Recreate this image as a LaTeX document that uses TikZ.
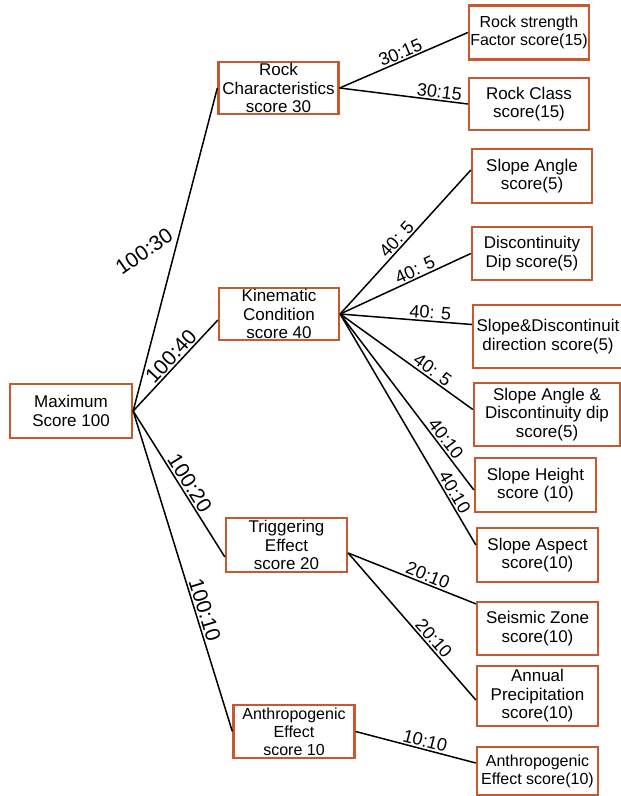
\documentclass[tikz,border=0pt]{standalone}
\usepackage{fontspec}
\setmainfont{Liberation Sans}
\definecolor{boxline}{RGB}{200,88,48}
\tikzset{
  scorebox/.style={draw=boxline, line width=2.3pt, align=center, inner sep=1pt,
    font=\fontsize{17}{18.5}\selectfont},
  smalltext/.style={font=\fontsize{16}{18}\selectfont},
  link/.style={line width=1.5pt},
  ratio/.style={font=\fontsize{18}{18}\selectfont, inner sep=1.5pt},
  bigratio/.style={font=\fontsize{21}{21}\selectfont, inner sep=1.5pt},
}
\begin{document}
\begin{tikzpicture}[x=1pt,y=-1pt]

    % Page frame
    \useasboundingbox (0,0) rectangle (621,796);

    % Root and main factors
    \node[scorebox, minimum width=122pt, minimum height=54pt] (maxi) at (71,411) {Maximum\\Score 100};
    \node[scorebox, minimum width=120pt, minimum height=51pt] (rockch) at (278.5,88) {Rock\\Characteristics\\score 30};
    \node[scorebox, minimum width=120pt, minimum height=52pt] (kinem) at (279,314) {Kinematic\\Condition\\score 40};
    \node[scorebox, minimum width=121pt, minimum height=54pt] (trig) at (286.5,545) {Triggering\\Effect\\score 20};
    \node[scorebox, smalltext, minimum width=121pt, minimum height=53pt] (anthro) at (294,731.5) {Anthropogenic\\Effect\\score 10};

    % Sub factors
    \node[scorebox, smalltext, minimum width=120pt, minimum height=54pt] (rockstr) at (529,32.5) {Rock strength\\Factor score(15)};
    \node[scorebox, minimum width=120pt, minimum height=52pt] (rockcls) at (529,104) {Rock Class\\score(15)};
    \node[scorebox, minimum width=120pt, minimum height=54pt] (slpang) at (532,176) {Slope Angle\\score(5)};
    \node[scorebox, minimum width=120pt, minimum height=53pt] (discdip) at (532,253.5) {Discontinuity\\Dip score(5)};
    \node[scorebox, minimum width=150pt, minimum height=63pt] (slpdisc) at (548,336.5) {Slope\&Discontinuit\\direction score(5)};
    \node[scorebox, minimum width=146pt, minimum height=63pt] (sadd) at (547,414.5) {Slope Angle \&\\Discontinuity dip\\score(5)};
    \node[scorebox, minimum width=121pt, minimum height=54pt] (slpht) at (535.5,485) {Slope Height\\score (10)};
    \node[scorebox, minimum width=121pt, minimum height=54pt] (slpasp) at (537.5,555) {Slope Aspect\\score(10)};
    \node[scorebox, minimum width=121pt, minimum height=53pt] (seis) at (537.5,628.5) {Seismic Zone\\score(10)};
    \node[scorebox, minimum width=121pt, minimum height=60pt] (annual) at (537.5,696) {Annual\\Precipitation\\score(10)};
    \node[scorebox, smalltext, minimum width=121pt, minimum height=48pt] (anthroeff) at (537.5,771) {Anthropogenic\\Effect score(10)};

    % Root to main factors
    \draw[link] (maxi.east) -- (rockch.west)
        node[bigratio, pos=0.53, rotate=35, anchor=south east] {100:30};
    \draw[link] (maxi.east) -- ([yshift=-6pt]kinem.west)
        node[bigratio, pos=0.53, sloped, above] {100:40};
    \draw[link] (maxi.east) -- ([yshift=-12pt]trig.west)
        node[bigratio, pos=0.53, sloped, above] {100:20};
    \draw[link] (maxi.east) -- (anthro.west)
        node[bigratio, pos=0.63, sloped, above] {100:10};

    % Rock characteristics
    \draw[link] (rockch.east) -- (rockstr.west)
        node[ratio, pos=0.5, sloped, above] {30:15};
    \draw[link] (rockch.east) -- (rockcls.west)
        node[ratio, pos=0.77, sloped, above] {30:15};

    % Kinematic condition
    \draw[link] (kinem.east) -- ([yshift=6pt]slpang.west)
        node[ratio, pos=0.48, sloped, above] {40: 5};
    \draw[link] (kinem.east) -- (discdip.west)
        node[ratio, pos=0.6, sloped, above] {40: 5};
    \draw[link] (kinem.east) -- ([yshift=12pt]slpdisc.west)
        node[ratio, pos=0.68, sloped, above] {40: 5};
    \draw[link] (kinem.east) -- ([yshift=5pt]sadd.west)
        node[ratio, pos=0.66, sloped, above] {40: 5};
    \draw[link] (kinem.east) -- ([yshift=-5pt]slpht.west)
        node[ratio, pos=0.74, sloped, above] {40:10};
    \draw[link] (kinem.east) -- ([yshift=10pt]slpasp.west)
        node[ratio, pos=0.79, sloped, above] {40:10};

    % Triggering effect
    \draw[link] ([yshift=-8pt]trig.east) -- ([yshift=-3pt]seis.north west)
        node[ratio, pos=0.6, sloped, above] {20:10};
    \draw[link] ([yshift=-8pt]trig.east) -- ([yshift=-4pt]annual.west)
        node[ratio, pos=0.62, sloped, above] {20:10};

    % Anthropogenic effect
    \draw[link] (anthro.east) -- ([yshift=8pt]anthroeff.west)
        node[ratio, pos=0.56, sloped, above] {10:10};

\end{tikzpicture}
\end{document}
